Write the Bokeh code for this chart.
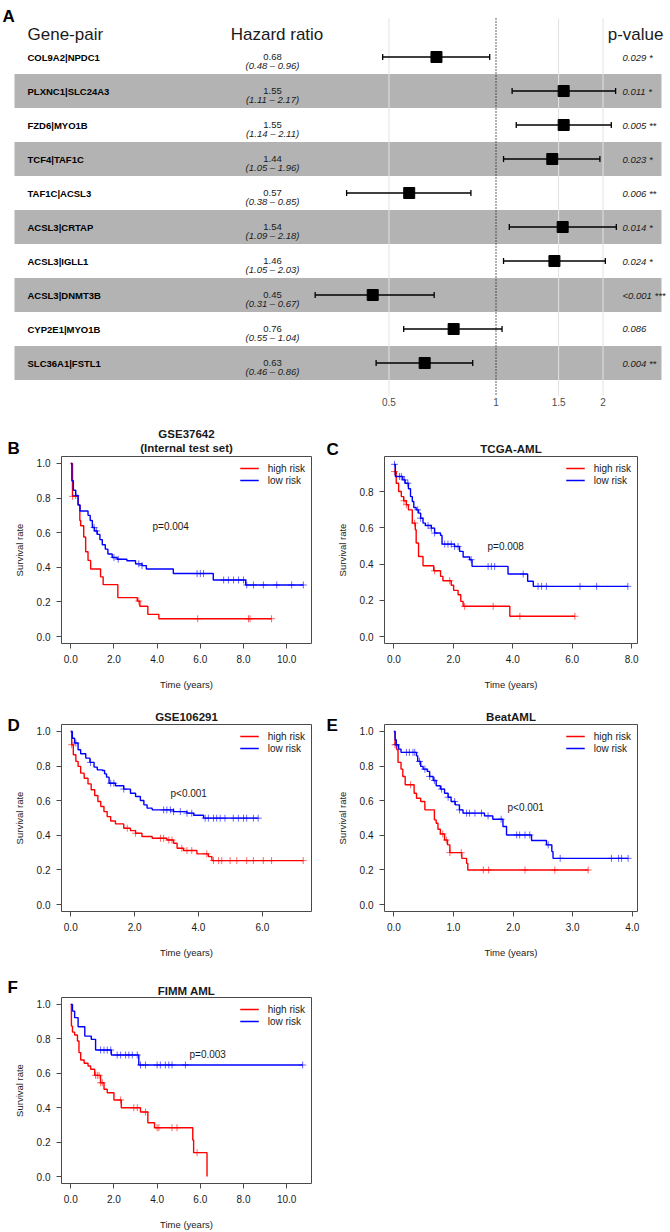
import numpy as np
from bokeh.plotting import figure
from bokeh.models import (Range1d, FixedTicker, NumeralTickFormatter, Legend,
                          LegendItem, ColumnDataSource, LinearScale)
from bokeh.embed import file_html
from bokeh.resources import INLINE
from bokeh.core.properties import value

FONT = "Liberation Sans"
RED, BLUE = "#ff0000", "#0000ff"
INK = "#1a1a1a"

# ---------------- Panel A: forest plot data ----------------
gene_pairs = ["COL9A2|NPDC1", "PLXNC1|SLC24A3", "FZD6|MYO1B", "TCF4|TAF1C", "TAF1C|ACSL3",
              "ACSL3|CRTAP", "ACSL3|IGLL1", "ACSL3|DNMT3B", "CYP2E1|MYO1B", "SLC36A1|FSTL1"]
hazard_ratio = [0.68, 1.55, 1.55, 1.44, 0.57, 1.54, 1.46, 0.45, 0.76, 0.63]
hr_lower = [0.48, 1.11, 1.14, 1.05, 0.38, 1.09, 1.05, 0.31, 0.55, 0.46]
hr_upper = [0.96, 2.17, 2.11, 1.96, 0.85, 2.18, 2.03, 0.67, 1.04, 0.86]
p_values = ["0.029 *", "0.011 *", "0.005 **", "0.023 *", "0.006 **", "0.014 *", "0.024 *",
            "<0.001 ***", "0.086", "0.004 **"]
forest_headers = ["Gene-pair", "Hazard ratio", "p-value"]
forest_ticks = [0.5, 1, 1.5, 2]
forest_tick_labels = ["0.5", "1", "1.5", "2"]
forest_grid = [0.5, 1.5, 2]
forest_ref = [1]

# ---------------- Panel B: GSE37642 ----------------
b_high_time = [0, 0.08, 0.34, 0.42, 0.46, 0.60, 0.69, 0.80, 0.92, 1.38, 1.50, 2.18, 3.08, 3.20, 3.57, 4.08]
b_high_surv = [1.0, 0.81, 0.76, 0.67, 0.64, 0.575, 0.49, 0.44, 0.39, 0.345, 0.30, 0.225, 0.205, 0.175, 0.128, 0.103]
b_high_end = 9.3
b_high_censor = [0.08, 3.15, 5.88, 8.23, 8.3, 9.3]
b_low_time = [0, 0.05, 0.12, 0.23, 0.34, 0.43, 0.80, 0.90, 1.00, 1.10, 1.23, 1.35, 1.46, 1.60, 1.72,
              1.92, 2.15, 2.60, 3.00, 3.30, 3.50, 4.75, 6.60, 8.10]
b_low_surv = [1.0, 0.90, 0.845, 0.815, 0.76, 0.725, 0.70, 0.67, 0.63, 0.61, 0.59, 0.56, 0.53, 0.505, 0.477,
              0.457, 0.447, 0.438, 0.42, 0.41, 0.39, 0.364, 0.327, 0.298]
b_low_end = 10.77
b_low_censor = [0.23, 1.08, 1.2, 2.0, 2.2, 3.15, 3.3, 5.85, 6.0, 6.15, 7.08, 7.3, 7.54, 7.77, 8.0,
                8.15, 8.46, 8.92, 9.54, 10.23, 10.77]

# ---------------- Panel C: TCGA-AML ----------------
c_high_time = [0, 0.08, 0.16, 0.25, 0.33, 0.42, 0.49, 0.62, 0.72, 0.75, 0.83, 0.98, 1.34, 1.57, 1.65,
               1.93, 2.01, 2.16, 2.25, 2.33, 3.90]
c_high_surv = [0.91, 0.846, 0.80, 0.772, 0.749, 0.727, 0.699, 0.626, 0.589, 0.516, 0.442, 0.391, 0.363,
               0.332, 0.308, 0.283, 0.255, 0.231, 0.194, 0.167, 0.112]
c_high_end = 6.09
c_high_censor = [0.02, 0.34, 0.42, 0.7, 1.37, 1.88, 2.38, 3.34, 4.24, 6.09]
c_low_time = [0, 0.05, 0.30, 0.38, 0.49, 0.56, 0.62, 0.67, 0.75, 0.83, 0.90, 0.98, 1.06, 1.26, 1.37,
              1.57, 1.62, 2.04, 2.21, 2.33, 2.55, 2.63, 3.84, 4.50, 4.69]
c_low_surv = [0.95, 0.883, 0.864, 0.846, 0.815, 0.772, 0.745, 0.712, 0.699, 0.681, 0.653, 0.626, 0.613,
              0.598, 0.571, 0.558, 0.51, 0.497, 0.47, 0.439, 0.424, 0.387, 0.345, 0.305, 0.277]
c_low_end = 7.87
c_low_censor = [0.02, 0.19, 0.25, 0.36, 0.47, 0.8, 0.9, 1.15, 1.26, 1.37, 1.71, 1.82, 1.93, 2.04, 2.16,
                2.6, 3.17, 3.28, 3.39, 4.35, 4.85, 4.97, 5.13, 6.26, 6.82, 7.87]

# ---------------- Panel D: GSE106291 ----------------
d_high_time = [0, 0.03, 0.08, 0.16, 0.23, 0.31, 0.42, 0.54, 0.64, 0.75, 0.85, 0.94, 1.04, 1.14, 1.25,
               1.40, 1.66, 1.87, 2.03, 2.23, 2.55, 3.01, 3.22, 3.33, 3.53, 3.95, 4.31, 4.42]
d_high_surv = [1.0, 0.923, 0.865, 0.827, 0.798, 0.759, 0.730, 0.697, 0.663, 0.630, 0.595, 0.566, 0.537,
               0.508, 0.483, 0.466, 0.441, 0.427, 0.412, 0.393, 0.383, 0.373, 0.354, 0.325, 0.312,
               0.293, 0.277, 0.254]
d_high_end = 7.28
d_high_censor = [0.03, 1.77, 2.03, 2.81, 2.91, 3.07, 3.17, 3.48, 3.64, 3.79, 4.26, 4.47, 4.63, 4.73,
                 4.99, 5.2, 5.51, 5.72, 6.03, 6.29, 7.28]
d_low_time = [0, 0.05, 0.12, 0.23, 0.31, 0.47, 0.60, 0.73, 0.83, 0.99, 1.06, 1.12, 1.20, 1.40, 1.66,
              1.87, 2.03, 2.18, 2.29, 2.39, 2.55, 3.22, 3.64, 3.85, 4.16]
d_low_surv = [1.0, 0.961, 0.933, 0.894, 0.871, 0.846, 0.821, 0.794, 0.778, 0.774, 0.755, 0.736, 0.701,
              0.686, 0.667, 0.643, 0.624, 0.601, 0.576, 0.557, 0.547, 0.537, 0.528, 0.516, 0.499]
d_low_end = 5.87
d_low_censor = [0.16, 0.62, 1.25, 1.35, 1.66, 2.91, 3.01, 3.12, 3.22, 3.43, 3.64, 3.79, 4.21, 4.31,
                4.47, 4.57, 4.68, 4.83, 5.09, 5.25, 5.41, 5.51, 5.72, 5.87]

# ---------------- Panel E: BeatAML ----------------
e_high_time = [0, 0.02, 0.05, 0.07, 0.12, 0.15, 0.19, 0.34, 0.38, 0.45, 0.52, 0.68, 0.71, 0.74, 0.78,
               0.85, 0.90, 0.94, 1.14, 1.22, 1.24]
e_high_surv = [1.0, 0.923, 0.894, 0.821, 0.782, 0.740, 0.692, 0.643, 0.614, 0.595, 0.547, 0.489, 0.470,
               0.435, 0.408, 0.373, 0.345, 0.300, 0.267, 0.238, 0.200]
e_high_end = 3.26
e_high_censor = [0.02, 0.28, 0.82, 0.88, 0.94, 1.13, 1.5, 1.59, 2.2, 2.7, 3.26]
e_low_time = [0, 0.02, 0.04, 0.08, 0.12, 0.38, 0.40, 0.45, 0.49, 0.56, 0.60, 0.66, 0.71, 0.78, 0.85,
              0.91, 0.96, 1.03, 1.10, 1.16, 1.52, 1.66, 1.83, 1.89, 2.31, 2.56, 2.65, 2.67]
e_low_surv = [1.0, 0.952, 0.923, 0.898, 0.879, 0.859, 0.827, 0.798, 0.782, 0.769, 0.740, 0.717, 0.686,
              0.667, 0.643, 0.620, 0.595, 0.576, 0.547, 0.528, 0.512, 0.493, 0.451, 0.402, 0.370,
              0.345, 0.306, 0.267]
e_low_end = 3.93
e_low_censor = [0.04, 0.21, 0.26, 0.32, 0.35, 0.43, 0.52, 0.6, 0.68, 0.8, 0.91, 1.02, 1.1, 1.22, 1.27,
                1.36, 1.47, 1.58, 1.8, 2.06, 2.11, 2.2, 2.28, 2.59, 2.79, 3.65, 3.77, 3.82, 3.93]

# ---------------- Panel F: FIMM AML ----------------
f_high_time = [0, 0.03, 0.08, 0.18, 0.31, 0.38, 0.46, 0.62, 0.80, 0.92, 1.11, 1.38, 1.54, 1.69, 2.00,
               2.34, 3.23, 3.57, 3.88, 5.65, 5.69, 6.31]
f_high_surv = [1.0, 0.874, 0.839, 0.822, 0.787, 0.720, 0.677, 0.658, 0.642, 0.623, 0.588, 0.545, 0.507,
               0.487, 0.445, 0.400, 0.375, 0.313, 0.284, 0.213, 0.139, 0.0]
f_high_end = 6.31
f_high_censor = [1.15, 1.23, 1.31, 1.38, 1.46, 2.31, 2.92, 3.08, 3.46, 4.0, 4.08, 4.69, 4.92, 5.85]
f_low_time = [0, 0.08, 0.18, 0.34, 0.65, 0.95, 1.15, 1.88, 3.15]
f_low_surv = [1.0, 0.961, 0.923, 0.870, 0.816, 0.797, 0.735, 0.706, 0.648]
f_low_end = 10.74
f_low_censor = [1.38, 1.54, 1.69, 1.85, 2.15, 2.31, 2.54, 2.69, 2.85, 3.08, 3.23, 3.46, 4.0, 4.15,
                4.38, 4.54, 4.69, 5.31, 10.74]

y_ticks = [0.0, 0.2, 0.4, 0.6, 0.8, 1.0]
x_ticks_10 = [0, 2, 4, 6, 8, 10]
x_ticks_8 = [0, 2, 4, 6, 8]
x_ticks_6 = [0, 2, 4, 6]
x_ticks_4 = [0, 1, 2, 3, 4]
legend_labels = ["high risk", "low risk"]

PAGE_W = 670


def lim(lo, hi):
    pad = 0.04 * (hi - lo)
    return (lo - pad, hi + pad)


def place(fig, left, top):
    fig.styles = {"position": "absolute", "left": f"{left}px", "top": f"{top}px"}
    return fig


# ================= Forest plot (panel A) =================
FX0, FX1, FY0, FY1 = 0, 670, 0, 396
ROW1, ROWH = 56.5, 34.0
HR1_X, PX_PER_LN = 495.5, 154.4
n = len(gene_pairs)
rows = list(range(1, n + 1))
y_top = 1 - (ROW1 - FY0) / ROWH
y_bot = 1 + (FY1 - ROW1) / ROWH
y_grid_top = 1 - (ROW1 - 18) / ROWH
xlo = float(np.exp((FX0 - HR1_X) / PX_PER_LN))
xhi = float(np.exp((FX1 - HR1_X) / PX_PER_LN))

fp = figure(width=670, height=420, x_axis_type="log", x_range=Range1d(xlo, xhi),
            y_range=Range1d(y_bot, y_top), y_axis_location=None, toolbar_location=None,
            output_backend="svg", title=None, min_border_left=0, min_border_right=0,
            min_border_top=0, min_border_bottom=24)
fp.extra_x_ranges = {"px": Range1d(FX0, FX1)}
fp.extra_x_scales = {"px": LinearScale()}
fp.extra_y_ranges = {"py": Range1d(FY1, FY0)}
fp.outline_line_color = None
fp.xgrid.visible = False
fp.ygrid.visible = False

src = ColumnDataSource(dict(
    row=rows, gene=gene_pairs, hr=hazard_ratio, lo=hr_lower, hi=hr_upper, p=p_values,
    hr_txt=[f"{v:.2f}" for v in hazard_ratio],
    ci_txt=[f"({a:.2f} \u2013 {b:.2f})" for a, b in zip(hr_lower, hr_upper)],
))

band_rows = rows[1::2]
fp.hbar(y=band_rows, height=1.0, left=14, right=661, x_range_name="px",
        fill_color="#b3b3b3", line_color=None)
fp.segment(x0=forest_grid, x1=forest_grid, y0=y_grid_top, y1=y_bot,
           line_color="#e2e2e2", line_width=1)
fp.segment(x0=forest_ref, x1=forest_ref, y0=y_grid_top, y1=y_bot,
           line_color="#222222", line_width=1.4, line_dash="1 2")
fp.segment(x0="lo", x1="hi", y0="row", y1="row", source=src, line_color="black", line_width=1.3)
fp.scatter(x="lo", y="row", source=src, marker="dash", angle=np.pi / 2, size=6,
           line_color="black", line_width=1.3)
fp.scatter(x="hi", y="row", source=src, marker="dash", angle=np.pi / 2, size=6,
           line_color="black", line_width=1.3)
fp.scatter(x="hr", y="row", source=src, marker="square", size=11,
           fill_color="black", line_color="black")

fp.text(x=27, y="row", text="gene", source=src, x_range_name="px",
        text_font=value(FONT), text_font_style="bold", text_font_size="9.5px",
        text_baseline="middle", text_align="left", text_color="black")
fp.text(x=272, y="row", text="hr_txt", source=src, x_range_name="px",
        text_font=value(FONT), text_font_size="9.5px", text_baseline="alphabetic",
        text_align="center", text_color=INK)
fp.text(x=272, y="row", text="ci_txt", source=src, x_range_name="px", y_offset=8,
        text_font=value(FONT), text_font_size="9.5px", text_font_style="italic",
        text_baseline="alphabetic", text_align="center", text_color=INK)
fp.text(x=622, y="row", text="p", source=src, x_range_name="px",
        text_font=value(FONT), text_font_size="9.5px", text_font_style="italic",
        text_baseline="middle", text_align="left", text_color=INK)

for txt, hx, align in zip(forest_headers, (27, 276.5, 663), ("left", "center", "right")):
    fp.text(x=[hx], y=[34], text=[txt], x_range_name="px", y_range_name="py",
            text_font=value(FONT), text_font_size="17px", text_baseline="alphabetic",
            text_align=align, text_color=INK)
fp.text(x=[2], y=[15.5], text=["A"], x_range_name="px", y_range_name="py",
        text_font=value(FONT), text_font_size="17px", text_font_style="bold",
        text_baseline="alphabetic", text_align="left", text_color="black")

fp.xaxis.ticker = FixedTicker(ticks=forest_ticks)
fp.xaxis.major_label_overrides = {t: l for t, l in zip(forest_ticks, forest_tick_labels)}
fp.xaxis.axis_line_color = None
fp.xaxis.major_tick_line_color = None
fp.xaxis.major_tick_out = 0
fp.xaxis.major_tick_in = 0
fp.xaxis.minor_tick_line_color = None
fp.xaxis.minor_tick_out = 0
fp.xaxis.major_label_standoff = 1
fp.xaxis.major_label_text_font = FONT
fp.xaxis.major_label_text_font_size = "10px"
fp.xaxis.major_label_text_color = "#4d4d4d"
place(fp, 0, 0)


# ================= Kaplan-Meier panels =================
def km_panel(box, frame, xlim, ylim, xticks, yticks, curves, ptext, p_xy):
    x0, y0, w, h = box
    fl, ft, fr, fb = frame
    p = figure(width=w, height=h, x_range=Range1d(*xlim), y_range=Range1d(*ylim),
               toolbar_location=None, output_backend="svg", title=None,
               min_border_left=fl - x0, min_border_right=x0 + w - fr,
               min_border_top=ft - y0, min_border_bottom=y0 + h - fb)
    p.extra_x_ranges = {"px": Range1d(fl, fr)}
    p.extra_y_ranges = {"py": Range1d(fb, ft)}
    p.outline_line_color = "#4a4a4a"
    p.outline_line_width = 1
    p.xgrid.visible = False
    p.ygrid.visible = False
    for ax, ticks in ((p.xaxis[0], xticks), (p.yaxis[0], yticks)):
        ax.ticker = FixedTicker(ticks=ticks)
        ax.formatter = NumeralTickFormatter(format="0.0")
        ax.axis_line_color = None
        ax.major_tick_out = 5
        ax.major_tick_in = 0
        ax.major_tick_line_color = "#4a4a4a"
        ax.minor_tick_line_color = None
        ax.major_label_text_font = FONT
        ax.major_label_text_font_size = "10px"
        ax.major_label_text_color = INK
        ax.axis_label_text_font = FONT
        ax.axis_label_text_font_size = "9.5px"
        ax.axis_label_text_font_style = "normal"
        ax.axis_label_text_color = INK
    p.xaxis[0].axis_label = "Time (years)"
    p.yaxis[0].axis_label = "Survival rate"
    p.xaxis[0].major_label_standoff = 6
    p.xaxis[0].axis_label_standoff = 13
    p.yaxis[0].major_label_standoff = 6
    p.yaxis[0].axis_label_standoff = 9

    items = []
    for (t, s, end, cens, color), name in zip(curves, legend_labels):
        xs = list(t) + [end]
        ys = list(s) + [s[-1]]
        r = p.step(xs, ys, mode="after", line_color=color, line_width=1.4)
        idx = np.searchsorted(np.asarray(t), np.asarray(cens), side="right") - 1
        cy = np.asarray(s)[idx]
        p.scatter(list(cens), list(cy), marker="cross", size=7, line_color=color,
                  line_alpha=0.6, line_width=1)
        items.append(LegendItem(label=name, renderers=[r]))
    leg = Legend(items=items, location="top_right", label_text_font=FONT,
                 label_text_font_size="10px", label_text_color=INK, glyph_width=19,
                 glyph_height=12, label_height=12, label_standoff=9, spacing=0,
                 padding=4, margin=6, border_line_color=None, background_fill_alpha=0)
    p.add_layout(leg)
    p.text(x=[p_xy[0]], y=[p_xy[1]], text=[ptext], x_range_name="px", y_range_name="py",
           text_font=value(FONT), text_font_size="10px", text_align="left",
           text_baseline="middle", text_color=INK)
    return place(p, x0, y0)


def strip(top, height, texts):
    s = figure(width=PAGE_W, height=height, x_range=Range1d(0, PAGE_W),
               y_range=Range1d(top + height, top), x_axis_location=None, y_axis_location=None,
               toolbar_location=None, output_backend="svg", title=None,
               min_border_left=0, min_border_right=0, min_border_top=0, min_border_bottom=0)
    s.outline_line_color = None
    s.background_fill_color = None
    s.border_fill_color = None
    s.xgrid.visible = False
    s.ygrid.visible = False
    for txt, tx, ty, kind in texts:
        if kind == "letter":
            s.text(x=[tx], y=[ty], text=[txt], text_font=value(FONT), text_font_size="17px",
                   text_font_style="bold", text_align="left", text_baseline="alphabetic",
                   text_color="black")
        else:
            s.text(x=[tx], y=[ty], text=[txt], text_font=value(FONT), text_font_size="11.5px",
                   text_font_style="bold", text_align="center", text_baseline="middle",
                   text_color=INK)
    return place(s, 0, top)


pB = km_panel((0, 454, 322, 238), (61, 456, 311, 643), lim(0, 10.72), lim(0, 1), x_ticks_10, y_ticks,
              [(b_high_time, b_high_surv, b_high_end, b_high_censor, RED),
               (b_low_time, b_low_surv, b_low_end, b_low_censor, BLUE)],
              "p=0.004", (152, 525.7))
pC = km_panel((322, 454, 348, 238), (384, 456, 637, 643), lim(0, 7.88), lim(0, 0.955), x_ticks_8, y_ticks,
              [(c_high_time, c_high_surv, c_high_end, c_high_censor, RED),
               (c_low_time, c_low_surv, c_low_end, c_low_censor, BLUE)],
              "p=0.008", (487, 545.7))
pD = km_panel((0, 722, 322, 238), (61, 724, 311, 911), lim(0, 7.25), lim(0, 1), x_ticks_6, y_ticks,
              [(d_high_time, d_high_surv, d_high_end, d_high_censor, RED),
               (d_low_time, d_low_surv, d_low_end, d_low_censor, BLUE)],
              "p<0.001", (170, 793))
pE = km_panel((322, 722, 348, 238), (384, 724, 637, 911), lim(0, 3.93), lim(0, 1), x_ticks_4, y_ticks,
              [(e_high_time, e_high_surv, e_high_end, e_high_censor, RED),
               (e_low_time, e_low_surv, e_low_end, e_low_censor, BLUE)],
              "p<0.001", (507, 806.7))
pF = km_panel((0, 995, 322, 237), (61, 997, 311, 1184), lim(0, 10.72), lim(0, 1), x_ticks_10, y_ticks,
              [(f_high_time, f_high_surv, f_high_end, f_high_censor, RED),
               (f_low_time, f_low_surv, f_low_end, f_low_censor, BLUE)],
              "p=0.003", (189, 1054))

s1 = strip(418, 46, [("B", 7, 448, "letter"), ("GSE37642", 186, 433, "title"),
                     ("(Internal test set)", 186, 447, "title"),
                     ("C", 326, 449, "letter"), ("TCGA-AML", 510.5, 448, "title")])
s2 = strip(692, 46, [("D", 7, 725, "letter"), ("GSE106291", 186, 716, "title"),
                     ("E", 326, 725, "letter"), ("BeatAML", 510.5, 716, "title")])
s3 = strip(960, 46, [("F", 7, 987, "letter"), ("FIMM AML", 186, 990, "title")])

roots = [fp, pB, pC, pD, pE, pF, s1, s2, s3]
open("out.html", "w").write(file_html(roots, INLINE))
